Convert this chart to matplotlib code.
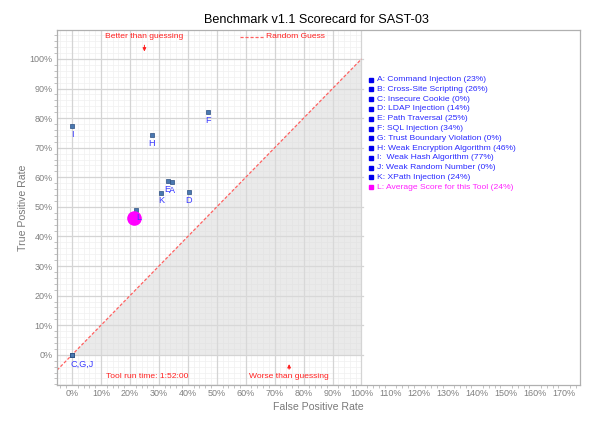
import matplotlib
matplotlib.use("Agg")
import matplotlib.pyplot as plt
import numpy as np

plt.rcParams['font.family'] = ['Liberation Sans', 'DejaVu Sans']

# scorecard data (percent)
letters = ['A', 'B', 'C', 'D', 'E', 'F', 'G', 'H', 'I', 'J', 'K']
fpr = [34.4, 22.2, 0, 40.3, 33.0, 46.9, 0, 27.6, 0, 0, 30.7]
tpr = [58.4, 49.0, 0, 55.0, 58.7, 82.0, 0, 74.2, 77.3, 0, 54.8]
avg_fpr, avg_tpr = 21.3, 46.3
categories = ['Command Injection', 'Cross-Site Scripting', 'Insecure Cookie', 'LDAP Injection',
              'Path Traversal', 'SQL Injection', 'Trust Boundary Violation',
              'Weak Encryption Algorithm', 'Weak Hash Algorithm', 'Weak Random Number',
              'XPath Injection']
scores = [23, 26, 0, 14, 25, 34, 0, 46, 77, 0, 24]
avg_score = 24
x_ticks = list(range(0, 171, 10))
y_ticks = list(range(0, 101, 10))

fig = plt.figure(figsize=(5.93, 4.24), dpi=100)
ax = fig.add_axes([57 / 593, 39 / 424, 523 / 593, 355 / 424])
ax.set_xlim(-5.2, 175.5)
ax.set_ylim(-10.2, 109.8)

# grid only over the 0-100 area
for v in np.arange(-4, 101, 2):
    ax.plot([v, v], [-10.2, 109.8], color='#f0f0f0', lw=0.5, zorder=0)
for v in np.arange(-10, 110, 2):
    ax.plot([-5.2, 100], [v, v], color='#f0f0f0', lw=0.5, zorder=0)
for v in range(0, 101, 10):
    ax.plot([v, v], [-10.2, 109.8], color='#d4d4d4', lw=0.9, zorder=0)
    ax.plot([-5.2, 100.5], [v, v], color='#d4d4d4', lw=0.9, zorder=0)
ax.plot([-5.2, 100.5], [110, 110], color='#d4d4d4', lw=0.9, zorder=0)

# worse-than-guessing area and random guess line
ax.fill([0, 100, 100], [0, 0, 100], color='#dcdcdc', alpha=0.6, zorder=1, lw=0)
ax.plot([-5.2, 100], [-5.2, 100], color='#ff6060', ls=(0, (2.5, 1.5)), lw=0.9, zorder=2)

ax.scatter(fpr, tpr, marker='s', s=12, color='#4a78b0', edgecolors='#2c4f80', lw=0.5, zorder=4)
ax.scatter([avg_fpr], [avg_tpr], marker='o', s=90, color='#ff00ff', zorder=5)

lab_col = '#3a3aff'
grouped = {}
for L, x, y in zip(letters, fpr, tpr):
    grouped.setdefault((x, y), []).append(L)
for (x, y), ls in grouped.items():
    if x == 0 and y == 0:
        ax.annotate(','.join(ls), (x, y), xytext=(-1, -3.5), textcoords='offset points',
                    ha='left', va='top', fontsize=6.6, color=lab_col, zorder=3)
    else:
        ax.annotate(','.join(ls), (x, y), xytext=(0, -2.5), textcoords='offset points',
                    ha='center', va='top', fontsize=6.6, color=lab_col, zorder=3)
ax.annotate('L', (avg_fpr, avg_tpr), xytext=(2, 0), textcoords='offset points',
            ha='left', va='center', fontsize=6.6, color=lab_col, zorder=6)

# legend list
y0, dy = 93.0, 3.3
for i, (L, c, s) in enumerate(zip(letters, categories, scores)):
    sep = ':  ' if L == 'I' else ': '
    ax.plot(103.4, y0 - i * dy, marker='s', ms=2.6, color='#0000ee', clip_on=False)
    ax.text(105.2, y0 - i * dy, f'{L}{sep}{c} ({s}%)', fontsize=6.1, color='#2a2aff', va='center')
ax.plot(103.4, y0 - 11 * dy, marker='s', ms=2.6, color='#ff00ff')
ax.text(105.2, y0 - 11 * dy, f'L: Average Score for this Tool ({avg_score}%)', fontsize=6.1,
        color='#ff22ff', va='center')

# annotations
red = '#ff2020'
ax.text(25, 107.6, 'Better than guessing', fontsize=6.1, color=red, ha='center', va='center')
ax.annotate('', xy=(25, 101.6), xytext=(25, 105.6),
            arrowprops=dict(arrowstyle='-|>', color=red, lw=0.7, mutation_scale=5))
ax.plot([58, 66.5], [107.6, 107.6], color='#ff6060', ls=(0, (2.5, 1.5)), lw=0.9)
ax.text(67, 107.6, 'Random Guess', fontsize=6.1, color=red, ha='left', va='center')
ax.text(26, -7.4, 'Tool run time: 1:52:00', fontsize=6.1, color=red, ha='center', va='center')
ax.text(75, -7.4, 'Worse than guessing', fontsize=6.1, color=red, ha='center', va='center')
ax.annotate('', xy=(75, -2.2), xytext=(75, -5.8),
            arrowprops=dict(arrowstyle='-|>', color=red, lw=0.7, mutation_scale=5))

ax.set_xticks(x_ticks)
ax.set_xticklabels([f'{t}%' for t in x_ticks])
ax.set_yticks(y_ticks)
ax.set_yticklabels([f'{t}%' for t in y_ticks])
ax.set_xticks(np.arange(-4, 176, 2), minor=True)
ax.set_yticks(np.arange(-10, 110, 2), minor=True)
ax.tick_params(which='major', length=0, labelsize=6.5, labelcolor='#808080', pad=3)
ax.tick_params(which='minor', length=2, color='#aaaaaa', width=0.5)
for sp in ax.spines.values():
    sp.set_color('#b0b0b0')
    sp.set_linewidth(0.9)

ax.set_xlabel('False Positive Rate', fontsize=7.6, color='#7a7a7a', labelpad=3)
ax.set_ylabel('True Positive Rate', fontsize=7.6, color='#7a7a7a', labelpad=1)
fig.text(316 / 593, 1 - 20 / 424, 'Benchmark v1.1 Scorecard for SAST-03', fontsize=9.1,
         ha='center', va='center')

fig.savefig('out.png', dpi=100)
